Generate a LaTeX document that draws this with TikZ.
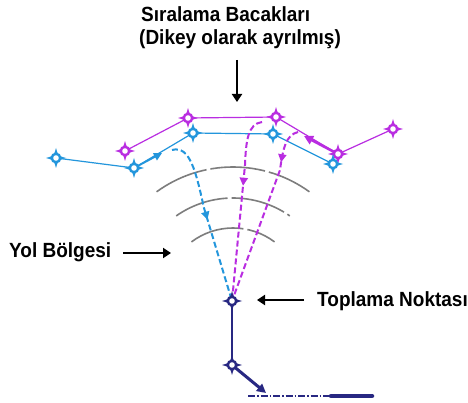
\documentclass[tikz,border=0pt]{standalone}
\usepackage{fontspec}
\setmainfont{Liberation Sans}
\usetikzlibrary{arrows.meta,decorations.markings}
\definecolor{mag}{RGB}{185,45,225}
\definecolor{sky}{RGB}{35,150,220}
\definecolor{navy}{RGB}{40,40,130}
\definecolor{arcgray}{RGB}{125,125,125}
\tikzset{
  wpt/.pic={
    \fill[pic actions] (0,-10) .. controls (2.2,-2.2) .. (10,0) .. controls (2.2,2.2) .. (0,10)
      .. controls (-2.2,2.2) .. (-10,0) .. controls (-2.2,-2.2) .. cycle;
    \fill[pic actions] (0,0) circle (5.5);
    \fill[white] (0,0) circle (2.8);
  },
  lbl/.style={font=\bfseries\fontsize{19}{22}\selectfont, inner sep=0pt, anchor=base west, yscale=1.08},
  callout/.style={line width=2.6pt, -{Triangle[length=8pt,width=10pt]}},
  leg/.style={line width=1.2pt},
  approach/.style={line width=2pt, dash pattern=on 6pt off 3pt},
  midarrow/.style 2 args={postaction={decorate}, decoration={markings,
      mark=at position #1 with {\arrow[solid]{Triangle[length=8pt,width=8pt]}}}},
  zone/.style={arcgray, line width=1.6pt, dash pattern=on 55pt off 4pt},
}
\begin{document}
\begin{tikzpicture}[x=1pt,y=-1pt]
\useasboundingbox[fill=white] (0,0) rectangle (468,403);

% labels
\node[lbl] (t1) at (141,22) {Sıralama Bacakları};
\node[lbl] (t2) at (139,45) {(Dikey olarak ayrılmış)};
\node[lbl] (yol) at (9,258) {Yol Bölgesi};
\node[lbl] (top) at (317,306) {Toplama Noktası};

\coordinate (a1s) at (237,60);  \coordinate (a1e) at (237,102);
\coordinate (a2s) at (123,253); \coordinate (a2e) at (171,253);
\coordinate (a3s) at (304,300); \coordinate (a3e) at (257,300);
\draw[callout] (a1s) -- (a1e);
\draw[callout] (a2s) -- (a2e);
\draw[callout] (a3s) -- (a3e);

% zone arcs
\coordinate (ctr) at (233,297);
\draw[zone] ([shift={(-126:130)}]ctr) arc[start angle=-126, end angle=-54, radius=130];
\draw[zone] ([shift={(-125:99)}]ctr) arc[start angle=-125, end angle=-55, radius=99];
\draw[zone] ([shift={(-127:69)}]ctr) arc[start angle=-127, end angle=-53, radius=69];

% waypoints
\coordinate (m1) at (125,151); \coordinate (m2) at (188,118); \coordinate (m3) at (276,117);
\coordinate (m4) at (338,154); \coordinate (m5) at (393,129);
\coordinate (b1) at (56,158);  \coordinate (b2) at (134,168); \coordinate (b3) at (193,133);
\coordinate (b4) at (273,134); \coordinate (b5) at (333,164);
\coordinate (c1) at (232,301); \coordinate (c2) at (232,365);

\draw[leg, mag] (m1) -- (m2) -- (m3) -- (m4) -- (m5);
\draw[leg, sky] (b1) -- (b2) -- (b3) -- (b4) -- (b5);

% direction arrows on legs
\coordinate (bar) at (162,153);
\draw[sky, line width=1.8pt, -{Triangle[length=8pt,width=8pt]}] (b2) -- (bar);
\coordinate (mar) at (304,136);
\draw[mag, line width=2.6pt, -{Triangle[length=9pt,width=9pt]}] (m4) -- (mar);

% approach paths
\coordinate (bs) at (172,150); \coordinate (ms1) at (262,122); \coordinate (ms2) at (298,132);
\draw[approach, sky, midarrow={0.5}{}] (bs) .. controls (190,145) and (196,172) .. (204,208) -- (c1);
\draw[approach, mag, midarrow={0.38}{}] (ms1) .. controls (248,124) and (246,140) .. (245,165) -- (c1);
\draw[approach, mag, midarrow={0.2}{}] (ms2) .. controls (286,135) and (283,148) .. (280,170) -- (c1);

% final segment
\coordinate (fe) at (266,393);
\coordinate (d1) at (248,396); \coordinate (d2) at (331,396); \coordinate (d3) at (372,396);
\draw[navy, line width=1.6pt] (c1) -- (c2);
\draw[navy, line width=3pt, -{Triangle[length=9pt,width=9pt]}] (c2) -- (fe);
\draw[navy, line width=1.1pt, dash pattern=on 7pt off 2pt on 1.5pt off 2pt] (d1) -- (d2);
\draw[navy, line width=4.5pt, line cap=round] (d2) -- (d3);

% waypoint symbols
\foreach \p in {m1,m2,m3,m4,m5} \pic[mag] at (\p) {wpt};
\foreach \p in {b1,b2,b3,b4,b5} \pic[sky] at (\p) {wpt};
\foreach \p in {c1,c2} \pic[navy] at (\p) {wpt};
\end{tikzpicture}
\end{document}
